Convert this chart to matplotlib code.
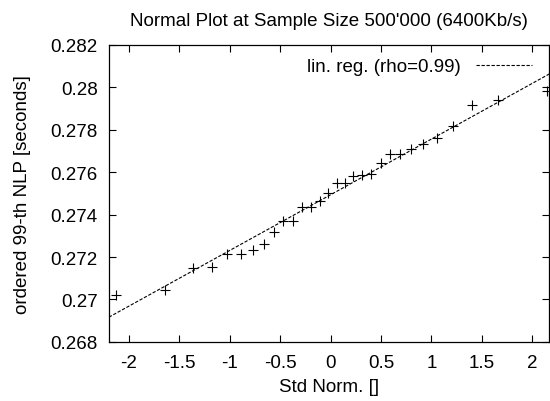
import matplotlib
matplotlib.use("Agg")
from matplotlib import pyplot as plt
import numpy as np

plt.rcParams['font.family'] = ['Liberation Sans', 'DejaVu Sans']

# quantiles of the standard normal (x) against ordered 99-th NLP (y)
std_norm = [-2.13, -1.64, -1.37, -1.18, -1.025, -0.89, -0.77, -0.66, -0.56, -0.47,
            -0.37, -0.285, -0.2, -0.11, -0.03, 0.06, 0.14, 0.225, 0.31, 0.40,
            0.5, 0.59, 0.69, 0.80, 0.92, 1.05, 1.21, 1.40, 1.66, 2.15]
nlp = [0.27022, 0.27045, 0.2715, 0.27154, 0.27214, 0.27215, 0.27235, 0.2726, 0.27316, 0.27369,
       0.27369, 0.27437, 0.27438, 0.27462, 0.27503, 0.2755, 0.2755, 0.2758, 0.27588, 0.27591,
       0.27644, 0.27687, 0.27687, 0.27707, 0.27731, 0.27762, 0.27817, 0.27915, 0.27942, 0.27981]

xticks = [-2, -1.5, -1, -0.5, 0, 0.5, 1, 1.5, 2]
yticks = [0.268, 0.27, 0.272, 0.274, 0.276, 0.278, 0.28, 0.282]

fig = plt.figure(figsize=(5.5, 4.02), dpi=100)
ax = fig.add_axes([0.198, 0.147, 0.801, 0.739])

xlim = (-2.2, 2.17)
slope, icpt = np.polyfit(std_norm, nlp, 1)
xl = np.array(xlim)

ax.plot(std_norm, nlp, '+', color='black', markersize=6.5, markeredgewidth=0.8)
ax.plot(xl, slope * xl + icpt, linestyle=(0, (3, 1.5)), color='black', linewidth=0.8,
        label='lin. reg. (rho=0.99)')

ax.set_xlim(xlim)
ax.set_ylim(0.268, 0.282)
ax.set_xticks(xticks)
ax.set_xticklabels(['-2', '-1.5', '-1', '-0.5', '0', '0.5', '1', '1.5', '2'])
ax.set_yticks(yticks)
ax.set_yticklabels(['0.268', '0.27', '0.272', '0.274', '0.276', '0.278', '0.28', '0.282'])
ax.tick_params(direction='in', top=True, right=True, length=5, width=0.8, labelsize=13.5)
ax.tick_params(axis='x', pad=9)
ax.tick_params(axis='y', pad=8)
for s in ax.spines.values():
    s.set_linewidth(0.9)

ax.set_title("Normal Plot at Sample Size 500'000 (6400Kb/s)", fontsize=13.5, pad=14)
ax.set_xlabel("Std Norm. []", fontsize=13.5, labelpad=5)
ax.set_ylabel("ordered 99-th NLP [seconds]", fontsize=13.5, labelpad=14)
ax.legend(loc='upper right', frameon=False, markerfirst=False, fontsize=13.5,
          handlelength=3, borderaxespad=0.3, bbox_to_anchor=(0.99, 1.0))

fig.savefig('out.png', dpi=100)
